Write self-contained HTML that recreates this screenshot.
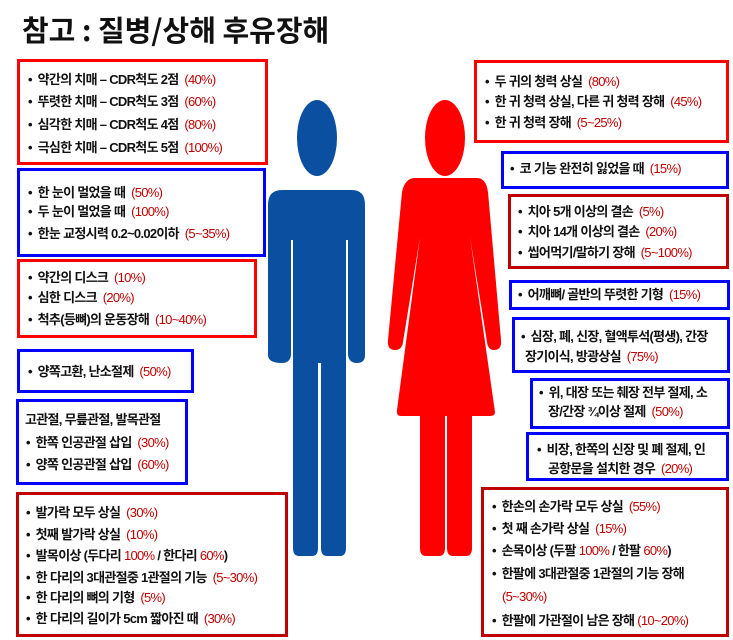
<!DOCTYPE html>
<html><head><meta charset="utf-8"><style>
body{margin:0;width:733px;height:640px;background:#fff;position:relative;overflow:hidden;font-family:"Liberation Sans","Noto Sans CJK KR",sans-serif;}
.b{position:absolute;box-sizing:border-box;border:3px solid;}
.R{border-color:#ff0000}.B{border-color:#0000ff}.D{border-color:#c00000}
.t{position:absolute;font-size:13px;line-height:18px;white-space:nowrap;color:#111;letter-spacing:-0.7px;font-weight:bold;}
.t i{font-style:normal;color:#c00000;font-weight:normal}
h1{position:absolute;left:22px;top:8px;margin:0;font-size:29px;font-weight:bold;font-family:"Noto Sans CJK KR",sans-serif;color:#111;letter-spacing:0px}
</style></head><body>
<h1>참고 : 질병/상해 후유장해</h1>
<svg width="733" height="640" style="position:absolute;left:0;top:0">
<g fill="#0b50a0">
<ellipse cx="317" cy="138" rx="20" ry="38"/>
<path d="M282 190 H352 Q365 190 365 205 V355 Q365 363 357 363 Q349 363 348 355 V240 H346 V548 Q346 556 340 556 H327 Q321 556 321 548 V363 H318 V548 Q318 556 312 556 H299 Q293 556 293 548 V240 H291 V355 Q290 363 282 363 Q268 363 268 355 V205 Q268 190 282 190 Z"/>
</g>
<g fill="#ff0000">
<ellipse cx="445" cy="138" rx="20" ry="38"/>
<path d="M415 178 H477 Q486 178 488 192 L501 340 Q502 350 494 350 Q488 350 487 342 L470 237 L495 412 Q495 416 490 416 H472 V548 Q472 556 466 556 H453 Q447 556 447 548 V416 H445 V548 Q445 556 439 556 H426 Q420 556 420 548 V416 H401 Q396 416 397 410 L420 237 L403 342 Q402 350 395 350 Q387 350 388 340 L402 192 Q405 178 415 178 Z"/>
</g>
</svg>

<div class="b R" style="left:17px;top:59px;width:251px;height:106px"></div>
<div class="t" style="left:28px;top:71px">•&nbsp; 약간의 치매 – CDR척도 2점&nbsp; <i>(40%)</i></div>
<div class="t" style="left:28px;top:93px">•&nbsp; 뚜렷한 치매 – CDR척도 3점&nbsp; <i>(60%)</i></div>
<div class="t" style="left:28px;top:116px">•&nbsp; 심각한 치매 – CDR척도 4점&nbsp; <i>(80%)</i></div>
<div class="t" style="left:28px;top:139px">•&nbsp; 극심한 치매 – CDR척도 5점&nbsp; <i>(100%)</i></div>

<div class="b B" style="left:17px;top:168px;width:249px;height:89px"></div>
<div class="t" style="left:28px;top:184px">•&nbsp; 한 눈이 멀었을 때&nbsp; <i>(50%)</i></div>
<div class="t" style="left:28px;top:203px">•&nbsp; 두 눈이 멀었을 때&nbsp; <i>(100%)</i></div>
<div class="t" style="left:28px;top:225px">•&nbsp; 한눈 교정시력 0.2~0.02이하&nbsp; <i>(5~35%)</i></div>

<div class="b R" style="left:17px;top:259px;width:240px;height:79px"></div>
<div class="t" style="left:28px;top:269px">•&nbsp; 약간의 디스크&nbsp; <i>(10%)</i></div>
<div class="t" style="left:28px;top:289px">•&nbsp; 심한 디스크&nbsp; <i>(20%)</i></div>
<div class="t" style="left:28px;top:311px">•&nbsp; 척추(등뼈)의 운동장해&nbsp; <i>(10~40%)</i></div>

<div class="b B" style="left:17px;top:349px;width:177px;height:44px"></div>
<div class="t" style="left:28px;top:363px">•&nbsp; 양쪽고환, 난소절제&nbsp; <i>(50%)</i></div>

<div class="b B" style="left:16px;top:399px;width:172px;height:86px"></div>
<div class="t" style="left:25px;top:411px">고관절, 무릎관절, 발목관절</div>
<div class="t" style="left:26px;top:434px">•&nbsp; 한쪽 인공관절 삽입&nbsp; <i>(30%)</i></div>
<div class="t" style="left:26px;top:456px">•&nbsp; 양쪽 인공관절 삽입&nbsp; <i>(60%)</i></div>

<div class="b D" style="left:16px;top:492px;width:272px;height:145px"></div>
<div class="t" style="left:26px;top:504px">•&nbsp; 발가락 모두 상실&nbsp; <i>(30%)</i></div>
<div class="t" style="left:26px;top:526px">•&nbsp; 첫째 발가락 상실&nbsp; <i>(10%)</i></div>
<div class="t" style="left:26px;top:547px">•&nbsp; 발목이상 (두다리 <i>100%</i> / 한다리 <i>60%</i>)</div>
<div class="t" style="left:26px;top:569px">•&nbsp; 한 다리의 3대관절중 1관절의 기능&nbsp; <i>(5~30%)</i></div>
<div class="t" style="left:26px;top:589px">•&nbsp; 한 다리의 뼈의 기형&nbsp; <i>(5%)</i></div>
<div class="t" style="left:26px;top:610px">•&nbsp; 한 다리의 길이가 5cm 짧아진 때&nbsp; <i>(30%)</i></div>

<div class="b R" style="left:474px;top:60px;width:255px;height:83px"></div>
<div class="t" style="left:485px;top:73px">•&nbsp; 두 귀의 청력 상실&nbsp; <i>(80%)</i></div>
<div class="t" style="left:485px;top:93px">•&nbsp; 한 귀 청력 상실, 다른 귀 청력 장해&nbsp; <i>(45%)</i></div>
<div class="t" style="left:485px;top:114px">•&nbsp; 한 귀 청력 장해&nbsp; <i>(5~25%)</i></div>

<div class="b B" style="left:501px;top:151px;width:228px;height:38px"></div>
<div class="t" style="left:510px;top:160px">•&nbsp; 코 기능 완전히 잃었을 때&nbsp; <i>(15%)</i></div>

<div class="b D" style="left:508px;top:194px;width:221px;height:75px"></div>
<div class="t" style="left:518px;top:203px">•&nbsp; 치아 5개 이상의 결손&nbsp; <i>(5%)</i></div>
<div class="t" style="left:518px;top:223px">•&nbsp; 치아 14개 이상의 결손&nbsp; <i>(20%)</i></div>
<div class="t" style="left:518px;top:244px">•&nbsp; 씹어먹기/말하기 장해&nbsp; <i>(5~100%)</i></div>

<div class="b B" style="left:509px;top:280px;width:221px;height:30px"></div>
<div class="t" style="left:518px;top:286px">•&nbsp; 어깨뼈/ 골반의 뚜렷한 기형&nbsp; <i>(15%)</i></div>

<div class="b B" style="left:512px;top:317px;width:218px;height:56px"></div>
<div class="t" style="left:521px;top:328px">•&nbsp; 심장, 폐, 신장, 혈액투석(평생), 간장</div>
<div class="t" style="left:525px;top:348px">장기이식, 방광상실&nbsp; <i>(75%)</i></div>

<div class="b B" style="left:530px;top:378px;width:200px;height:51px"></div>
<div class="t" style="left:539px;top:384px">•&nbsp; 위, 대장 또는 췌장 전부 절제, 소</div>
<div class="t" style="left:548px;top:403px">장/간장 ¾이상 절제&nbsp; <i>(50%)</i></div>

<div class="b B" style="left:526px;top:432px;width:203px;height:49px"></div>
<div class="t" style="left:537px;top:441px">•&nbsp; 비장, 한쪽의 신장 및 폐 절제, 인</div>
<div class="t" style="left:548px;top:460px">공항문을 설치한 경우&nbsp; <i>(20%)</i></div>

<div class="b D" style="left:481px;top:487px;width:248px;height:150px"></div>
<div class="t" style="left:492px;top:498px">•&nbsp; 한손의 손가락 모두 상실&nbsp; <i>(55%)</i></div>
<div class="t" style="left:492px;top:520px">•&nbsp; 첫 째 손가락 상실&nbsp; <i>(15%)</i></div>
<div class="t" style="left:492px;top:542px">•&nbsp; 손목이상 (두팔 <i>100%</i> / 한팔 <i>60%</i>)</div>
<div class="t" style="left:492px;top:565px">•&nbsp; 한팔에 3대관절중 1관절의 기능 장해</div>
<div class="t" style="left:502px;top:588px"><i>(5~30%)</i></div>
<div class="t" style="left:492px;top:612px">•&nbsp; 한팔에 가관절이 남은 장해 <i>(10~20%)</i></div>
</body></html>
